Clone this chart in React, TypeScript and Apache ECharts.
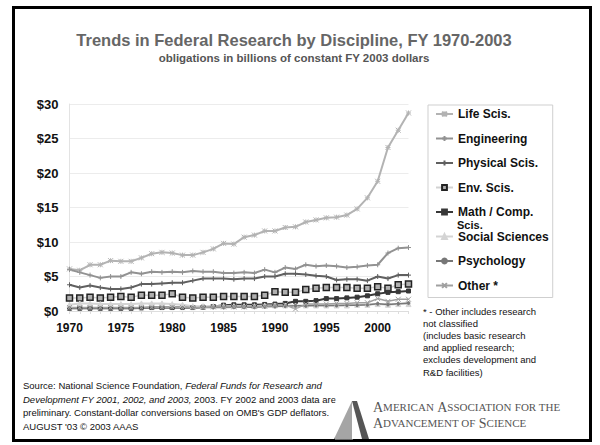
import React, { useEffect, useRef } from "react";
import * as echarts from "echarts";

const years = [
  "1970", "1971", "1972", "1973", "1974", "1975", "1976", "1977", "1978", "1979",
  "1980", "1981", "1982", "1983", "1984", "1985", "1986", "1987", "1988", "1989",
  "1990", "1991", "1992", "1993", "1994", "1995", "1996", "1997", "1998", "1999",
  "2000", "2001", "2002", "2003",
];

const lifeSci = [6.1, 5.9, 6.7, 6.7, 7.3, 7.2, 7.2, 7.7, 8.3, 8.5, 8.4, 8.1, 8.1, 8.5, 9.0, 9.8, 9.7, 10.7, 11.0, 11.6, 11.6, 12.1, 12.2, 12.9, 13.2, 13.5, 13.6, 13.9, 14.8, 16.4, 18.8, 23.7, 26.2, 28.7];
const engineering = [6.0, 5.6, 5.2, 4.8, 5.0, 5.0, 5.6, 5.4, 5.7, 5.6, 5.7, 5.6, 5.8, 5.7, 5.7, 5.5, 5.5, 5.6, 5.5, 6.0, 5.6, 6.3, 6.1, 6.7, 6.5, 6.6, 6.5, 6.3, 6.4, 6.6, 6.7, 8.4, 9.1, 9.2];
const physicalSci = [3.8, 3.4, 3.7, 3.4, 3.2, 3.2, 3.4, 3.9, 3.9, 4.0, 4.1, 4.1, 4.4, 4.7, 4.7, 4.7, 4.6, 4.7, 4.7, 5.0, 5.0, 5.4, 5.4, 5.3, 5.1, 5.0, 4.5, 4.6, 4.6, 4.4, 5.0, 4.7, 5.2, 5.2];
const envSci = [1.9, 1.9, 2.0, 1.9, 2.0, 2.1, 2.0, 2.3, 2.3, 2.3, 2.5, 2.0, 1.9, 2.0, 2.0, 2.1, 2.1, 2.1, 2.1, 2.3, 2.8, 2.7, 2.7, 3.1, 3.3, 3.4, 3.4, 3.4, 3.3, 3.3, 3.5, 3.3, 3.8, 3.9];
const mathComp = [0.4, 0.4, 0.4, 0.4, 0.4, 0.4, 0.4, 0.45, 0.5, 0.5, 0.5, 0.5, 0.5, 0.55, 0.65, 0.85, 0.9, 0.9, 0.9, 0.95, 1.0, 1.1, 1.4, 1.4, 1.5, 1.8, 1.8, 1.9, 2.0, 2.2, 2.5, 2.7, 2.8, 2.9];
const socialSci = [0.9, 1.1, 1.1, 1.0, 1.0, 1.0, 1.0, 1.1, 1.1, 1.1, 1.0, 0.9, 0.7, 0.7, 0.7, 0.7, 0.7, 0.7, 0.7, 0.8, 0.8, 0.8, 0.8, 0.8, 0.8, 0.8, 0.8, 0.8, 0.9, 0.9, 1.0, 0.9, 1.0, 1.0];
const psychology = [0.4, 0.4, 0.4, 0.4, 0.4, 0.4, 0.4, 0.45, 0.45, 0.45, 0.5, 0.45, 0.45, 0.5, 0.5, 0.5, 0.55, 0.55, 0.55, 0.6, 0.65, 0.7, 0.75, 0.75, 0.8, 0.8, 0.8, 0.85, 0.85, 0.9, 1.05, 0.95, 1.05, 1.15];
const otherSci = [0.5, 0.5, 0.5, 0.5, 0.5, 0.5, 0.5, 0.5, 0.55, 0.55, 0.55, 0.5, 0.5, 0.5, 0.6, 0.6, 0.6, 0.6, 0.7, 0.7, 0.8, 0.9, 0.3, 1.0, 1.0, 1.0, 1.1, 1.1, 1.2, 1.2, 1.8, 1.4, 1.7, 1.7];

const seriesNames = [
  "Life Scis.", "Engineering", "Physical Scis.", "Env. Scis.",
  "Math / Comp. Scis.", "Social Sciences", "Psychology", "Other *",
];

const titleText = "Trends in Federal Research by Discipline, FY 1970-2003";
const subtitleText = "obligations in billions of constant FY 2003 dollars";

const footnoteLines = [
  "* - Other includes research",
  "not classified",
  "(includes basic research",
  "and applied research;",
  "excludes development and",
  "R&D facilities)",
];

const FONT = "'Liberation Sans', Arial, sans-serif";
const SERIF = "'Liberation Serif', 'Times New Roman', serif";

const ASTER = "path://M0,0L10,10M10,0L0,10M5,0L5,10M0,5L10,5";
const PLUS = "path://M5,0L5,10M0,5L10,5";
const CROSS = "path://M0,0L10,10M10,0L0,10";

function lineSeries(name: string, data: number[], color: string, symbol: string, size: number, width: number, extra: any = {}) {
  return {
    name,
    type: "line",
    data,
    symbol,
    symbolSize: size,
    showSymbol: true,
    showAllSymbol: true,
    lineStyle: { color, width },
    itemStyle: { color, borderColor: color, borderWidth: 1 },
    emphasis: { disabled: true },
    ...extra,
  };
}

function buildLogo() {
  const els: any[] = [];
  els.push({
    type: "polygon",
    shape: { points: [[334, 439], [352, 401], [352, 439]] },
    style: { fill: "#6a6a6a" },
  });
  for (let k = 0; k < 9; k++) {
    const x = 336 + k * 2;
    els.push({
      type: "line",
      shape: { x1: x, y1: 399, x2: x, y2: 440 },
      style: { stroke: "#ffffff", lineWidth: 0.8 },
    });
  }
  els.push({
    type: "polygon",
    shape: { points: [[352, 401], [357, 401], [369, 439], [362, 439]] },
    style: { fill: "#555555" },
  });
  return els;
}

export default function App() {
  const ref = useRef<HTMLDivElement>(null);
  useEffect(() => {
    document.body.style.margin = "0";
    const chart = echarts.init(ref.current!, null, { renderer: "svg" });
    const option: any = {
      animation: false,
      backgroundColor: "#ffffff",
      title: {
        text: titleText,
        subtext: subtitleText,
        left: 294,
        top: 31,
        padding: 0,
        itemGap: 4,
        textAlign: "center",
        textStyle: { fontFamily: FONT, fontSize: 16.5, fontWeight: "bold", color: "#666666" },
        subtextStyle: { fontFamily: FONT, fontSize: 11.5, fontWeight: "bold", color: "#555555" },
      },
      grid: { left: 69.5, right: 191.5, top: 104, bottom: 134, containLabel: false },
      legend: {
        orient: "vertical",
        left: 428,
        top: 105,
        padding: [3, 4, 6, 7],
        itemGap: 12.5,
        itemWidth: 17,
        itemHeight: 6,
        selectedMode: false,
        borderColor: "#cfcfcf",
        borderWidth: 1,
        data: seriesNames,
        formatter: (n: string) => (n === "Math / Comp. Scis." ? "Math / Comp." : n),
        textStyle: { fontFamily: FONT, fontSize: 12, fontWeight: "bold", color: "#111111", lineHeight: 12 },
      },
      xAxis: {
        type: "category",
        data: years,
        boundaryGap: false,
        axisLine: { show: true, lineStyle: { color: "#dddddd" } },
        axisTick: { show: true, interval: 0, length: 3, lineStyle: { color: "#dddddd" } },
        axisLabel: { interval: 4, margin: 11, fontFamily: FONT, fontSize: 12, fontWeight: "bold", color: "#111111" },
        splitLine: { show: false },
      },
      yAxis: {
        type: "value",
        min: 0,
        max: 30,
        interval: 5,
        axisLine: { show: true, lineStyle: { color: "#e3e3e3" } },
        axisTick: { show: false },
        axisLabel: { margin: 11, formatter: "${value}", fontFamily: FONT, fontSize: 13, fontWeight: "bold", color: "#111111" },
        splitLine: { lineStyle: { color: "#ececec", width: 1 } },
      },
      series: [
        lineSeries(seriesNames[0], lifeSci, "#b3b3b3", ASTER, 5, 2),
        lineSeries(seriesNames[1], engineering, "#929292", PLUS, 5, 2),
        lineSeries(seriesNames[2], physicalSci, "#606060", PLUS, 5, 2),
        lineSeries(seriesNames[3], envSci, "#d2d2d2", "rect", 6, 1.5, {
          itemStyle: { color: "#b0b0b0", borderColor: "#222222", borderWidth: 1.5 },
        }),
        lineSeries(seriesNames[4], mathComp, "#383838", "rect", 4, 2),
        lineSeries(seriesNames[5], socialSci, "#d4d4d4", "triangle", 5, 2),
        lineSeries(seriesNames[6], psychology, "#777777", "circle", 3, 1.5),
        lineSeries(seriesNames[7], otherSci, "#a0a0a0", CROSS, 5, 1.5),
      ],
      graphic: [
        {
          type: "rect",
          shape: { x: 13.5, y: 7.5, width: 577, height: 433 },
          style: { fill: "none", stroke: "#000000", lineWidth: 3 },
          silent: true,
        },
        {
          type: "text",
          x: 457,
          y: 224.6,
          style: { text: "Scis.", fontFamily: FONT, fontSize: 11, lineHeight: 10, fontWeight: "bold", fill: "#111111", verticalAlign: "middle" },
        },
        {
          type: "text",
          x: 423,
          y: 305,
          style: {
            text: footnoteLines.join("\n"),
            fontFamily: FONT,
            fontSize: 9.5,
            lineHeight: 12.2,
            fill: "#111111",
          },
        },
        {
          type: "text",
          x: 23,
          y: 379,
          style: {
            text:
              "Source: National Science Foundation, {i|Federal Funds for Research and}\n" +
              "{i|Development FY 2001, 2002, and 2003,} 2003. FY 2002 and 2003 data are\n" +
              "preliminary. Constant-dollar conversions based on OMB's GDP deflators.\n" +
              "AUGUST '03 © 2003 AAAS",
            fontFamily: FONT,
            fontSize: 9.5,
            lineHeight: 13.5,
            fill: "#111111",
            rich: { i: { fontFamily: FONT, fontSize: 9.5, fontStyle: "italic", lineHeight: 13.5, fill: "#111111" } },
          },
        },
        ...buildLogo(),
        {
          type: "text",
          x: 373,
          y: 407,
          style: {
            text: "{b|A}{s|MERICAN} {b|A}{s|SSOCIATION} {s|FOR THE}",
            verticalAlign: "middle",
            rich: {
              b: { fontFamily: SERIF, fontSize: 14, fill: "#555555" },
              s: { fontFamily: SERIF, fontSize: 11, fill: "#555555" },
            },
          },
        },
        {
          type: "text",
          x: 373,
          y: 423,
          style: {
            text: "{b|A}{s|DVANCEMENT OF} {b|S}{s|CIENCE}",
            verticalAlign: "middle",
            rich: {
              b: { fontFamily: SERIF, fontSize: 14, fill: "#555555" },
              s: { fontFamily: SERIF, fontSize: 11, fill: "#555555" },
            },
          },
        },
      ],
    };
    chart.setOption(option);
    return () => chart.dispose();
  }, []);
  return (
    <div
      ref={ref}
      style={{ position: "absolute", left: 0, top: 0, width: 600, height: 445, background: "#fff" }}
    />
  );
}
